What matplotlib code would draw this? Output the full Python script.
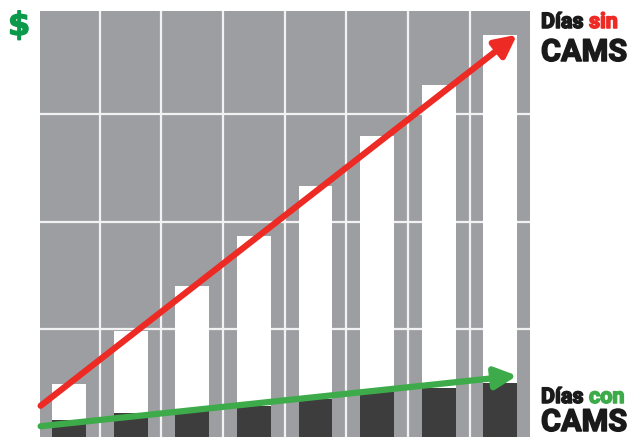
import matplotlib
matplotlib.use("Agg")
import matplotlib.pyplot as plt
import matplotlib.patheffects as pe
import numpy as np

# bar heights (arbitrary units, grid step = 1)
periods = list(range(8))
sin_cams = [0.49, 0.99, 1.40, 1.87, 2.33, 2.80, 3.27, 3.74]
con_cams = [0.16, 0.22, 0.26, 0.29, 0.35, 0.42, 0.46, 0.50]

# trend arrows: (x0, y0) -> (x1, y1)
red_trend = [(-0.46, 0.29), (7.27, 3.74)]
green_trend = [(-0.46, 0.10), (7.27, 0.57)]

GRAY = "#9d9ea2"
DARK = "#3d3d3d"
RED = "#ee2a24"
GREEN = "#3dab4a"
DOLLAR = "#0b9a4b"
INK = "#1a1a1a"

fig = plt.figure(figsize=(6.36, 4.37), dpi=100)
ax = fig.add_axes([40 / 636, 0, 490 / 636, 426 / 437])
ax.set_facecolor(GRAY)

ax.bar(periods, sin_cams, width=0.55, color="white", zorder=2)
ax.bar(periods, con_cams, width=0.55, color=DARK, zorder=3)

ax.set_xlim(-0.47, 7.48)
ax.set_ylim(0, 3.96)
ax.set_xticks(np.arange(0.5, 7, 1))
ax.set_yticks([1, 2, 3])
ax.grid(True, color="#f2f2f2", linewidth=1.6)
ax.set_axisbelow(True)
ax.tick_params(length=0, labelbottom=False, labelleft=False)
for s in ax.spines.values():
    s.set_visible(False)

for (x0, y0), (x1, y1), c in [(red_trend[0], red_trend[1], RED),
                              (green_trend[0], green_trend[1], GREEN)]:
    ax.annotate("", xy=(x1, y1), xytext=(x0, y0), zorder=5,
                arrowprops=dict(arrowstyle="-|>,head_length=1.3,head_width=0.65",
                                color=c, lw=4.5, shrinkA=0, shrinkB=0))


def label(x, y, s, color, size):
    return fig.text(x, y, s, color=color, fontsize=size,
                    family=["Roboto", "DejaVu Sans"], fontweight="bold",
                    path_effects=[pe.withStroke(linewidth=1.1, foreground=color)])


fig.text(8 / 636, 1 - 35 / 437, "$", color=DOLLAR, fontsize=23,
         family="DejaVu Sans", fontweight="bold",
         path_effects=[pe.withStroke(linewidth=1.0, foreground=DOLLAR)])
label(541 / 636, 1 - 28 / 437, "Días ", INK, 15.5)
label(541 / 636, 1 - 61 / 437, "CAMS", INK, 22)
label(541 / 636, 1 - 403 / 437, "Días ", INK, 15.5)
label(541 / 636, 1 - 431 / 437, "CAMS", INK, 22)

# colored second word next to "Días"
fig.canvas.draw()
r = fig.canvas.get_renderer()
for t in [t for t in fig.texts if t.get_text() == "Días "]:
    bb = t.get_window_extent(renderer=r)
    word, col = ("sin", RED) if bb.y0 > 200 else ("con", GREEN)
    label(bb.x1 / fig.bbox.width, t.get_position()[1], word, col, 15.5)

fig.savefig("out.png", dpi=100)
